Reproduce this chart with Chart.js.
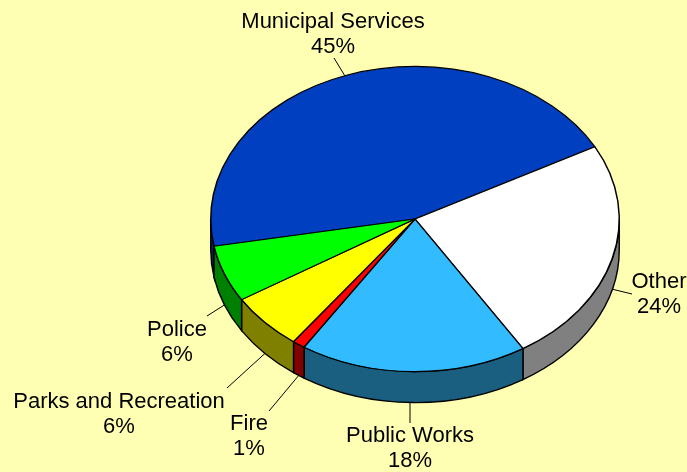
<!DOCTYPE html>
<html>
<head>
<meta charset="utf-8">
<style>
  html, body { margin: 0; padding: 0; background: #ffffb3; }
  canvas { display: block; }
</style>
<script src="https://cdn.jsdelivr.net/npm/chart.js@4/dist/chart.umd.min.js"></script>
</head>
<body>
<canvas id="budgetPie" width="687" height="472"></canvas>
<script>
const categories = ["Municipal Services", "Other", "Public Works", "Fire", "Parks and Recreation", "Police"];
const shares = [45, 24, 18, 1, 6, 6];
const topColors = ["#0040c0", "#ffffff", "#33bbff", "#ff0000", "#ffff00", "#00ff00"];
const wallColors = ["#002060", "#808080", "#1a5e80", "#800000", "#808000", "#008000"];

// label centre, leader tip, and a small angle shift (degrees) for the leader's rim end
const labelX = [333, 659, 410, 249, 119, 177];
const labelY = [22, 282, 436, 424, 402, 330];
const tipX = [334, 632, 410, 269, 227, 207];
const tipY = [58, 294, 423, 411, 388, 316];
const leaderShift = [-0.8, 0, 0.9, 0, 0, 0];

const squash = 0.747;
const depth = 31;

// squashes the flat pie into an ellipse and adds the rim below it
const tiltedPie = {
    id: 'tiltedPie',
    beforeDatasetsDraw(chart) {
        const ctx = chart.ctx;
        const arcs = chart.getDatasetMeta(0).data;
        ctx.save();
        ctx.lineWidth = 1.4;
        ctx.strokeStyle = '#000';
        arcs.forEach(function (arc, i) {
            const cx = arc.x, cy = arc.y, r = arc.outerRadius;
            [0, Math.PI * 2].forEach(function (turn) {
                const a = Math.max(arc.startAngle + turn, 0);
                const b = Math.min(arc.endAngle + turn, Math.PI);
                if (b <= a) return;
                ctx.beginPath();
                ctx.ellipse(cx, cy, r, r * squash, 0, a, b);
                ctx.ellipse(cx, cy + depth, r, r * squash, 0, b, a, true);
                ctx.closePath();
                ctx.fillStyle = wallColors[i];
                ctx.fill();
                ctx.stroke();
            });
        });
        ctx.restore();

        const first = arcs[0];
        ctx.save();
        ctx.translate(first.x, first.y);
        ctx.scale(1, squash);
        ctx.translate(-first.x, -first.y);
    },
    afterDatasetsDraw(chart) {
        const ctx = chart.ctx;
        ctx.restore();

        const arcs = chart.getDatasetMeta(0).data;
        ctx.save();
        ctx.strokeStyle = '#000';
        ctx.lineWidth = 1;
        ctx.fillStyle = '#000';
        ctx.font = '22px "Liberation Sans", Arial, sans-serif';
        ctx.textAlign = 'center';
        ctx.textBaseline = 'middle';
        arcs.forEach(function (arc, i) {
            const mid = (arc.startAngle + arc.endAngle) / 2 + leaderShift[i] * Math.PI / 180;
            const rimX = arc.x + arc.outerRadius * Math.cos(mid);
            const rimY = arc.y + arc.outerRadius * squash * Math.sin(mid) + (Math.sin(mid) > 0 ? depth : 0);
            ctx.beginPath();
            ctx.moveTo(rimX, rimY);
            ctx.lineTo(tipX[i], tipY[i]);
            ctx.stroke();
            ctx.fillText(categories[i], labelX[i], labelY[i]);
            ctx.fillText(shares[i] + '%', labelX[i], labelY[i] + 25);
        });
        ctx.restore();
    }
};

new Chart(document.getElementById('budgetPie'), {
    type: 'pie',
    data: {
        labels: categories,
        datasets: [{
            data: shares,
            backgroundColor: topColors,
            borderColor: '#000',
            borderWidth: 1.5
        }]
    },
    options: {
        responsive: false,
        animation: false,
        events: [],
        rotation: -100.3,
        layout: { padding: { left: 210, right: 67, top: 14, bottom: 48 } },
        plugins: {
            legend: { display: false },
            tooltip: { enabled: false }
        }
    },
    plugins: [tiltedPie]
});
</script>
</body>
</html>
